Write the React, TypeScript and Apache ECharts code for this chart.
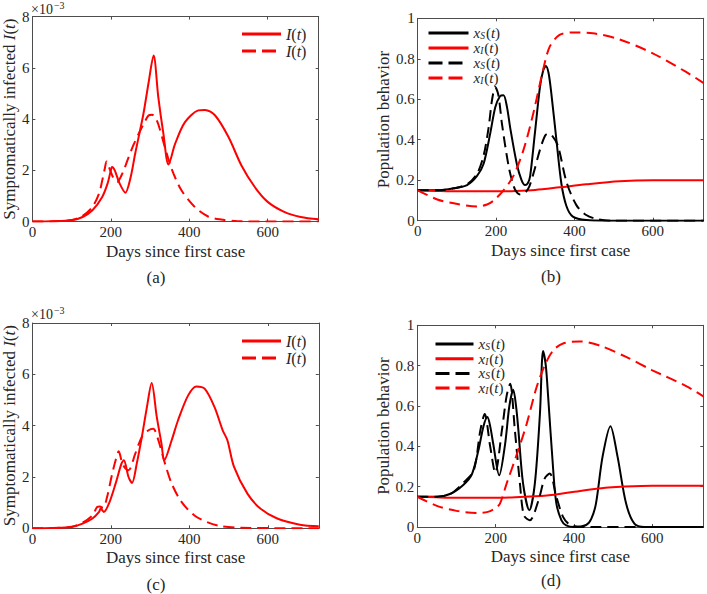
import React, { useEffect, useRef } from "react";
import * as echarts from "echarts";

// ---------- data ----------
// (a) symptomatically infected, in units of 1e-3
const aSolidDays = [0, 50, 100, 128, 153, 178, 192, 199, 203, 210, 222, 237, 250, 262, 283, 296, 309, 321, 334, 347, 364, 389, 423, 440, 466, 500, 533, 567, 600, 642, 684, 730];
const aSolidVals = [0, 0.01, 0.05, 0.18, 0.44, 0.96, 1.5, 1.94, 2.13, 2.0, 1.5, 1.13, 1.7, 2.65, 4.2, 5.4, 6.48, 4.86, 3.43, 2.23, 3.04, 3.88, 4.34, 4.36, 4.14, 3.3, 2.19, 1.35, 0.77, 0.38, 0.18, 0.09];
const aDashDays = [0, 50, 100, 128, 153, 170, 178, 185, 189, 196, 205, 216, 230, 245, 258, 271, 285, 296, 305, 312, 321, 338, 355, 380, 414, 448, 481, 520, 600, 730];
const aDashVals = [0, 0.01, 0.06, 0.22, 0.57, 1.1, 1.6, 2.1, 2.35, 2.1, 1.75, 1.55, 1.9, 2.5, 3.0, 3.43, 3.85, 4.14, 4.17, 4.1, 3.8, 2.9, 2.06, 1.22, 0.57, 0.2, 0.08, 0.02, 0, 0];

// (b) population behavior
const bSSolidDays = [0, 50, 92, 126, 151, 168, 185, 198, 210, 219, 228, 236, 253, 265, 274, 281, 287, 299, 312, 320, 327, 334, 341, 354, 367, 380, 396, 430, 480, 730];
const bSSolidVals = [0.15, 0.15, 0.16, 0.176, 0.22, 0.28, 0.43, 0.56, 0.615, 0.62, 0.56, 0.46, 0.28, 0.2, 0.176, 0.185, 0.22, 0.43, 0.66, 0.74, 0.764, 0.73, 0.63, 0.4, 0.18, 0.07, 0.02, 0.003, 0, 0];
const bISolidDays = [0, 50, 100, 150, 200, 250, 300, 362, 430, 515, 600, 730];
const bISolidVals = [0.15, 0.147, 0.145, 0.145, 0.145, 0.147, 0.152, 0.165, 0.18, 0.195, 0.2, 0.2];
const bSDashDays = [0, 50, 92, 126, 151, 168, 181, 190, 198, 206, 215, 232, 245, 253, 261, 275, 285, 295, 312, 325, 333, 343, 358, 380, 405, 430, 460, 500, 730];
const bSDashVals = [0.15, 0.15, 0.16, 0.18, 0.23, 0.32, 0.46, 0.6, 0.66, 0.62, 0.48, 0.27, 0.17, 0.14, 0.13, 0.14, 0.17, 0.23, 0.35, 0.42, 0.43, 0.42, 0.37, 0.19, 0.077, 0.028, 0.007, 0, 0];
const bIDashDays = [0, 50, 92, 151, 177, 194, 219, 244, 270, 295, 320, 337, 362, 396, 447, 515, 600, 684, 730];
const bIDashVals = [0.15, 0.105, 0.086, 0.07, 0.08, 0.1, 0.15, 0.22, 0.35, 0.53, 0.745, 0.86, 0.918, 0.93, 0.926, 0.896, 0.827, 0.736, 0.68];

// (c) symptomatically infected, in units of 1e-3
const cSolidDays = [0, 50, 100, 128, 153, 170, 174, 182, 195, 212, 227, 233, 245, 254, 266, 279, 292, 304, 317, 329, 336, 355, 371, 397, 418, 439, 464, 485, 497, 514, 548, 581, 624, 682, 730];
const cSolidVals = [0, 0.01, 0.05, 0.18, 0.38, 0.64, 0.77, 0.64, 0.96, 1.74, 2.52, 2.65, 2.0, 1.77, 2.52, 3.56, 4.73, 5.66, 4.34, 3.3, 2.65, 3.43, 4.2, 5.18, 5.53, 5.44, 4.73, 3.82, 3.43, 2.39, 1.35, 0.77, 0.38, 0.14, 0.08];
const cDashDays = [0, 50, 100, 128, 153, 165, 172, 180, 190, 203, 213, 220, 228, 236, 245, 262, 279, 296, 308, 321, 338, 355, 380, 413, 447, 481, 530, 730];
const cDashVals = [0, 0.01, 0.06, 0.22, 0.5, 0.83, 0.85, 0.8, 1.2, 2.1, 2.7, 3.0, 2.6, 2.35, 2.26, 2.9, 3.56, 3.82, 3.88, 3.43, 2.52, 1.74, 1.03, 0.5, 0.23, 0.08, 0.02, 0];

// (d) population behavior
const dSSolidDays = [0, 50, 85, 118, 139, 156, 169, 179, 186, 194, 209, 224, 235, 245, 252, 258, 270, 286, 300, 313, 321, 328, 334, 347, 355, 368, 380, 400, 431, 444, 456, 473, 493, 511, 533, 554, 580, 730];
const dSSolidVals = [0.15, 0.15, 0.165, 0.21, 0.26, 0.38, 0.5, 0.545, 0.5, 0.41, 0.256, 0.41, 0.6, 0.68, 0.6, 0.48, 0.215, 0.083, 0.215, 0.56, 0.873, 0.8, 0.645, 0.28, 0.116, 0.033, 0.008, 0, 0.01, 0.04, 0.116, 0.35, 0.5, 0.35, 0.116, 0.017, 0, 0];
const dISolidDays = [0, 50, 100, 150, 200, 250, 300, 350, 420, 480, 520, 600, 730];
const dISolidVals = [0.15, 0.147, 0.145, 0.145, 0.145, 0.147, 0.152, 0.16, 0.18, 0.195, 0.2, 0.205, 0.205];
const dSDashDays = [0, 50, 85, 118, 144, 161, 172, 186, 199, 216, 228, 237, 249, 262, 272, 287, 309, 325, 338, 355, 372, 389, 420, 730];
const dSDashVals = [0.15, 0.15, 0.165, 0.22, 0.28, 0.48, 0.56, 0.4, 0.27, 0.48, 0.65, 0.71, 0.48, 0.215, 0.058, 0.033, 0.13, 0.24, 0.265, 0.15, 0.05, 0.012, 0, 0];
const dIDashDays = [0, 50, 100, 150, 180, 200, 211, 228, 254, 279, 304, 325, 347, 372, 414, 465, 533, 600, 685, 730];
const dIDashVals = [0.15, 0.105, 0.08, 0.07, 0.075, 0.095, 0.116, 0.215, 0.36, 0.51, 0.69, 0.8, 0.876, 0.91, 0.92, 0.9, 0.843, 0.777, 0.7, 0.648];

const xTicks = { min: 0, max: 730, interval: 200 };
const infTicks = { min: 0, max: 8, interval: 2 };
const behTicks = { min: 0, max: 1, interval: 0.2 };

const subLabels = ["(a)", "(b)", "(c)", "(d)"];
const xName = "Days since first case";
const yNameInf = "{n|Symptomatically infected }{i|I}{n|(}{i|t}{n|)}";
const yNameBeh = "{n|Population behavior}";

// ---------- styles ----------
const FONT = "'Liberation Serif', 'DejaVu Serif', serif";
const AX = "#4d4d4d";
const TXT = "#262626";
const RED = "#ff0000";
const BLACK = "#000000";
const DASH = [11, 6];

const grids = [
  { left: 29.4, top: 16.6, width: 289.3, height: 205 },
  { left: 417.7, top: 18.3, width: 286, height: 202.4 },
  { left: 29.3, top: 323, width: 289.5, height: 205.3 },
  { left: 417.3, top: 325.3, width: 286, height: 201.7 },
];

const legendLabels: Record<string, string> = {
  a1: "{i|I}{n|(}{i|t}{n|)}",
  a2: "{i|I}{n|(}{i|t}{n|)}",
  c1: "{i|I}{n|(}{i|t}{n|)}",
  c2: "{i|I}{n|(}{i|t}{n|)}",
  b1: "{i|x}{s|S}{n|(}{i|t}{n|)}",
  b2: "{i|x}{s|I}{n|(}{i|t}{n|)}",
  b3: "{i|x}{s|S}{n|(}{i|t}{n|)}",
  b4: "{i|x}{s|I}{n|(}{i|t}{n|)}",
  d1: "{i|x}{s|S}{n|(}{i|t}{n|)}",
  d2: "{i|x}{s|I}{n|(}{i|t}{n|)}",
  d3: "{i|x}{s|S}{n|(}{i|t}{n|)}",
  d4: "{i|x}{s|I}{n|(}{i|t}{n|)}",
};

const richI = {
  n: { fontFamily: FONT, fontSize: 16, color: TXT, lineHeight: 14 },
  i: { fontFamily: FONT, fontSize: 16, fontStyle: "italic", color: TXT, lineHeight: 14 },
};
const richX = {
  n: { fontFamily: FONT, fontSize: 15, color: TXT, lineHeight: 14 },
  i: { fontFamily: FONT, fontSize: 15, fontStyle: "italic", color: TXT, lineHeight: 14 },
  s: { fontFamily: FONT, fontSize: 9.5, fontStyle: "italic", color: TXT, lineHeight: 7, padding: [6, 1, 0, 0] },
};

const nameRich = {
  n: { fontFamily: FONT, fontSize: 17, color: TXT },
  i: { fontFamily: FONT, fontSize: 17, color: TXT, fontStyle: "italic" },
};

function zip(days: number[], vals: number[]) {
  return days.map((d, i) => [d, vals[i]]);
}

function line(name: string, idx: number, days: number[], vals: number[], color: string, dashed: boolean) {
  return {
    name,
    type: "line",
    xAxisIndex: idx,
    yAxisIndex: idx,
    data: zip(days, vals),
    showSymbol: false,
    symbol: "none",
    smooth: 0.3,
    lineStyle: { color, width: 2, type: dashed ? DASH : "solid" },
    itemStyle: { color },
    z: 3,
  };
}

function legendItem(name: string, color: string, dashed: boolean) {
  return {
    name,
    lineStyle: { color, width: 3, type: dashed ? [14, 6] : "solid" },
    itemStyle: { color, opacity: 0 },
  };
}

function mkLegend(left: number, top: number, width: number, gap: number, rich: any, items: any[]) {
  return {
    left,
    top,
    orient: "vertical",
    itemWidth: width,
    itemHeight: 14,
    itemGap: gap,
    padding: 0,
    selectedMode: false,
    data: items,
    formatter: (n: string) => legendLabels[n],
    textStyle: { rich, fontFamily: FONT, fontSize: 16, color: TXT },
  };
}

export default function App() {
  const ref = useRef<HTMLDivElement>(null);
  useEffect(() => {
    if (!ref.current) return;
    const chart = echarts.init(ref.current, undefined, { renderer: "svg" });

    const xAxes: any[] = [];
    const yAxes: any[] = [];
    grids.forEach((_, gi) => {
      const yT = gi % 2 === 0 ? infTicks : behTicks;
      const yName = gi % 2 === 0 ? yNameInf : yNameBeh;
      xAxes.push({
        type: "value",
        gridIndex: gi,
        ...xTicks,
        position: "bottom",
        name: "{n|" + xName + "}",
        nameLocation: "middle",
        nameGap: 21,
        nameTextStyle: { fontFamily: FONT, fontSize: 17, color: TXT, verticalAlign: "top", rich: nameRich },
        axisLine: { show: true, onZero: false, lineStyle: { color: AX, width: 1 } },
        axisTick: { show: true, inside: true, length: 3, lineStyle: { color: AX } },
        axisLabel: {
          showMaxLabel: false,
          margin: 3,
          fontFamily: FONT,
          fontSize: 15,
          color: TXT,
          formatter: (v: number) => "{t|" + v + "}",
          rich: { t: { fontFamily: FONT, fontSize: 15, color: TXT } },
        },
        splitLine: { show: false },
      });
      xAxes.push({
        type: "value",
        gridIndex: gi,
        ...xTicks,
        position: "top",
        axisLine: { show: true, onZero: false, lineStyle: { color: AX, width: 1 } },
        axisTick: { show: true, inside: true, length: 3, lineStyle: { color: AX } },
        axisLabel: { show: false },
        splitLine: { show: false },
      });
      yAxes.push({
        type: "value",
        gridIndex: gi,
        ...yT,
        position: "left",
        name: yName,
        nameLocation: "middle",
        nameRotate: 90,
        nameGap: gi % 2 === 0 ? 13 : 24,
        nameTextStyle: { fontFamily: FONT, fontSize: 17, color: TXT, rich: nameRich },
        axisLine: { show: true, onZero: false, lineStyle: { color: AX, width: 1 } },
        axisTick: { show: true, inside: true, length: 3, lineStyle: { color: AX } },
        axisLabel: {
          margin: 3,
          fontFamily: FONT,
          fontSize: 15,
          color: TXT,
          formatter: (v: number) => "{t|" + String(Math.round(v * 10) / 10) + "}",
          rich: { t: { fontFamily: FONT, fontSize: 15, color: TXT } },
        },
        splitLine: { show: false },
      });
      yAxes.push({
        type: "value",
        gridIndex: gi,
        ...yT,
        position: "right",
        axisLine: { show: true, onZero: false, lineStyle: { color: AX, width: 1 } },
        axisTick: { show: true, inside: true, length: 3, lineStyle: { color: AX } },
        axisLabel: { show: false },
        splitLine: { show: false },
      });
    });

    const series = [
      line("a1", 0, aSolidDays, aSolidVals, RED, false),
      line("a2", 0, aDashDays, aDashVals, RED, true),
      line("b1", 2, bSSolidDays, bSSolidVals, BLACK, false),
      line("b2", 2, bISolidDays, bISolidVals, RED, false),
      line("b3", 2, bSDashDays, bSDashVals, BLACK, true),
      line("b4", 2, bIDashDays, bIDashVals, RED, true),
      line("c1", 4, cSolidDays, cSolidVals, RED, false),
      line("c2", 4, cDashDays, cDashVals, RED, true),
      line("d1", 6, dSSolidDays, dSSolidVals, BLACK, false),
      line("d2", 6, dISolidDays, dISolidVals, RED, false),
      line("d3", 6, dSDashDays, dSDashVals, BLACK, true),
      line("d4", 6, dIDashDays, dIDashVals, RED, true),
    ];

    const legends = [
      mkLegend(240.5, 26, 39, 1, richI, [legendItem("a1", RED, false), legendItem("a2", RED, true)]),
      mkLegend(427, 25, 40, -1, richX, [
        legendItem("b1", BLACK, false),
        legendItem("b2", RED, false),
        legendItem("b3", BLACK, true),
        legendItem("b4", RED, true),
      ]),
      mkLegend(240.5, 333, 39, 1, richI, [legendItem("c1", RED, false), legendItem("c2", RED, true)]),
      mkLegend(434, 336, 38, -1.3, richX, [
        legendItem("d1", BLACK, false),
        legendItem("d2", RED, false),
        legendItem("d3", BLACK, true),
        legendItem("d4", RED, true),
      ]),
    ];

    const labelPos = [
      { x: 156, y: 277 },
      { x: 551, y: 276 },
      { x: 156, y: 584 },
      { x: 551, y: 580 },
    ];
    const graphics: any[] = labelPos.map((p, i) => ({
      type: "text",
      x: p.x,
      y: p.y,
      style: {
        text: subLabels[i],
        fontFamily: FONT,
        fontSize: 17,
        fill: TXT,
        align: "center",
        verticalAlign: "middle",
      },
    }));
    [
      { x: 31, y: 9 },
      { x: 31, y: 314 },
    ].forEach((p) => {
      graphics.push({
        type: "text",
        x: p.x,
        y: p.y,
        style: {
          text: "{a|×10}{b|−3}",
          verticalAlign: "middle",
          rich: {
            a: { fontFamily: FONT, fontSize: 14, fill: TXT, color: TXT, lineHeight: 16 },
            b: { fontFamily: FONT, fontSize: 10, fill: TXT, color: TXT, padding: [0, 0, 7, 1] },
          },
        },
      });
    });

    chart.setOption({
      animation: false,
      backgroundColor: "#ffffff",
      textStyle: { fontFamily: FONT },
      grid: grids.map((g) => ({ ...g, containLabel: false })),
      xAxis: xAxes,
      yAxis: yAxes,
      legend: legends,
      series,
      graphic: graphics,
    });
    return () => chart.dispose();
  }, []);

  return (
    <div
      ref={ref}
      style={{ position: "fixed", left: 0, top: 0, width: 707, height: 594, background: "#fff" }}
    />
  );
}
